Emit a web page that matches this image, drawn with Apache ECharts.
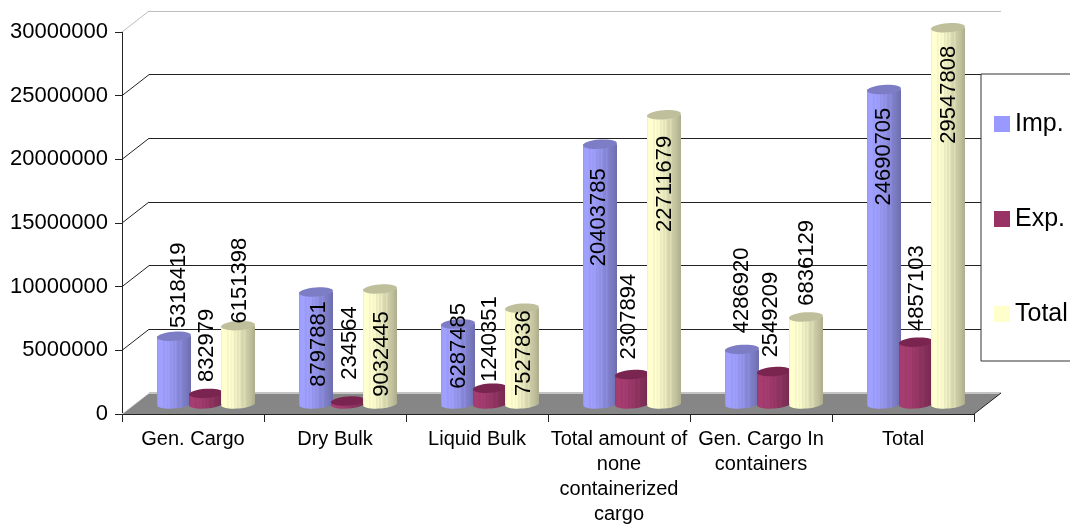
<!DOCTYPE html>
<html>
<head>
<meta charset="utf-8">
<style>html,body{margin:0;padding:0;background:#fff;overflow:hidden}#c{width:1070px;height:525px}</style>
<script src="https://cdn.jsdelivr.net/npm/echarts@6/dist/echarts.min.js"></script>
</head>
<body>
<div id="c"></div>
<script>
const categories = ['Gen. Cargo', 'Dry Bulk', 'Liquid Bulk', 'Total amount of\nnone\ncontainerized\ncargo', 'Gen. Cargo In\ncontainers', 'Total'];
const seriesNames = ['Imp.', 'Exp.', 'Total'];
const impValues = [5318419, 8797881, 6287485, 20403785, 4286920, 24690705];
const expValues = [832979, 234564, 1240351, 2307894, 2549209, 4857103];
const totalValues = [6151398, 9032445, 7527836, 22711679, 6836129, 29547808];
const yTicks = [0, 5000000, 10000000, 15000000, 20000000, 25000000, 30000000];

// Hand-placed data-label nudges of the original chart (px from the top of the cylinder).
const impLabelLift = [-51, 52, 22, 73, -59, 67];
const expLabelLift = [-48, -58, -49, -58, -57, -54];
const totalLabelLift = [-45, 65, 45, 69, -54, 67];
const impLabelSide = [5, 3, 1, -1, 0, 0];
const expLabelSide = [1, 2, 0, -3, -3, 1];
const totalLabelSide = [2, 2, 2, 1, 1, 1];

const depthX = 27, depthY = -21;       // wall depth
const barDepthX = 13, barDepthY = -10; // cylinders stand mid-floor
const barStep = 32, barWidth = 34, capRy = 4.6, capTilt = 0.07;
const font = 'Liberation Sans, Arial, sans-serif';

const palettes = [
  { base: [160, 160, 255], cap: '#7d7dc6' },
  { base: [166, 60, 112], cap: '#7a2450' },
  { base: [255, 255, 208], cap: '#bfbf9c' }
];
const band = [[0,.93],[.05,1],[.16,1],[.2,.95],[.25,1],[.3,.96],[.36,.99],[.4,.91],[.45,.95],[.5,.88],[.55,.93],[.6,.85],[.66,.83],[.7,.88],[.74,.8],[.85,.76],[.92,.72],[1,.68]];
function gradient(rgb) {
  return new echarts.graphic.LinearGradient(0, 0, 1, 0, band.map(([o, f]) => ({
    offset: o,
    color: 'rgb(' + rgb.map(c => Math.min(255, Math.round(c * f))).join(',') + ')'
  })));
}

function cylinderSeries(sIdx, values, lifts, sides) {
  const fill = gradient(palettes[sIdx].base);
  return {
    type: 'custom', name: seriesNames[sIdx], xAxisIndex: 0, yAxisIndex: 0, clip: false,
    itemStyle: { color: ['#9999ff', '#993366', '#ffffcc'][sIdx] },
    data: values.map((v, i) => [i, v]),
    encode: { x: 0, y: 1 },
    renderItem(params, api) {
      const i = api.value(0), v = api.value(1);
      const top = api.coord([i, v]), base = api.coord([i, 0]);
      const cx = top[0] + barDepthX + (sIdx - 1) * barStep;
      const yT = top[1] + barDepthY, yB = base[1] + barDepthY;
      const hw = barWidth / 2;
      return {
        type: 'group',
        children: [
          { type: 'ellipse', x: cx, y: yB, rotation: capTilt, shape: { cx: 0, cy: 0, rx: hw, ry: capRy }, style: { fill } },
          { type: 'rect', shape: { x: cx - hw, y: yT, width: barWidth, height: yB - yT }, style: { fill } },
          { type: 'ellipse', x: cx, y: yT, rotation: capTilt, shape: { cx: 0, cy: 0, rx: hw, ry: capRy }, style: { fill: palettes[sIdx].cap } },
          { type: 'text', x: cx + sides[i], y: yT + lifts[i], rotation: Math.PI / 2, z2: 100,
            style: { text: String(v), fill: '#000', font: '22px ' + font, align: 'center', verticalAlign: 'middle' } }
        ]
      };
    }
  };
}

const option = {
  animation: false,
  backgroundColor: '#fff',
  textStyle: { fontFamily: font },
  grid: [
    { left: 122, width: 852, top: 32, height: 382, outerBoundsMode: 'none' },
    { left: 122 + depthX, width: 852, top: 32 + depthY, height: 382, outerBoundsMode: 'none' }
  ],
  xAxis: [
    { type: 'category', gridIndex: 0, data: categories,
      axisLine: { lineStyle: { color: '#222' } },
      axisTick: { show: true, length: 8, alignWithLabel: false, lineStyle: { color: '#222' } },
      axisLabel: { interval: 0, color: '#000', fontSize: 20, lineHeight: 25, margin: 13, fontFamily: font } },
    { type: 'category', gridIndex: 1, data: categories, show: false }
  ],
  yAxis: [
    { type: 'value', gridIndex: 0, min: 0, max: 30000000, interval: 5000000,
      axisLine: { show: true, lineStyle: { color: '#222' } },
      axisTick: { show: true, length: 7, lineStyle: { color: '#222' } },
      splitLine: { show: false },
      axisLabel: { color: '#000', fontSize: 22, margin: 14, fontFamily: font, formatter: v => String(v) } },
    { type: 'value', gridIndex: 1, min: 0, max: 30000000, interval: 5000000,
      axisLine: { show: false }, axisTick: { show: false }, axisLabel: { show: false },
      splitLine: { show: true, lineStyle: { width: 1, color: ['#fff', '#222', '#222', '#222', '#222', '#222', '#bdbdbd'] } } }
  ],
  legend: {
    data: seriesNames, orient: 'vertical', left: 981, top: 74,
    padding: [37, 12, 34, 13], itemWidth: 16, itemHeight: 16, itemGap: 69, icon: 'rect',
    borderColor: '#333', borderWidth: 1, backgroundColor: '#fff',
    textStyle: { color: '#000', fontSize: 25, fontFamily: font, lineHeight: 26 }
  },
  series: [
    { // left-wall diagonals
      type: 'custom', name: 'wall', xAxisIndex: 0, yAxisIndex: 0, clip: false, silent: true,
      data: yTicks.slice(1).map(t => [0, t]), encode: { y: 1 },
      renderItem(params, api) {
        const cs = params.coordSys, v = api.value(1), y = api.coord([0, v])[1];
        return { type: 'line', shape: { x1: cs.x, y1: y, x2: cs.x + depthX, y2: y + depthY },
          style: { stroke: v === 30000000 ? '#bdbdbd' : '#222', lineWidth: 1 } };
      }
    },
    { // floor
      type: 'custom', name: 'floor', xAxisIndex: 0, yAxisIndex: 0, clip: false, silent: true,
      data: [[0, 0]], encode: { y: 1 },
      renderItem(params, api) {
        const cs = params.coordSys, y = api.coord([0, 0])[1], r = cs.x + cs.width;
        const by = y + depthY;
        return { type: 'group', children: [
          { type: 'polygon', shape: { points: [[cs.x, y], [cs.x + depthX, by], [r + depthX, by], [r, y]] }, style: { fill: '#868686' } },
          { type: 'line', shape: { x1: cs.x + depthX, y1: by, x2: r + depthX, y2: by }, style: { stroke: '#c4c4c4', lineWidth: 2 } },
          { type: 'line', shape: { x1: r, y1: y, x2: r + depthX, y2: by }, style: { stroke: '#222', lineWidth: 1 } },
          { type: 'line', shape: { x1: cs.x, y1: y, x2: cs.x + depthX, y2: by }, style: { stroke: '#e8e8e8', lineWidth: 1 } }
        ] };
      }
    },
    cylinderSeries(0, impValues, impLabelLift, impLabelSide),
    cylinderSeries(1, expValues, expLabelLift, expLabelSide),
    cylinderSeries(2, totalValues, totalLabelLift, totalLabelSide)
  ]
};
echarts.init(document.getElementById('c'), null, { renderer: 'canvas' }).setOption(option);
</script>
</body>
</html>
